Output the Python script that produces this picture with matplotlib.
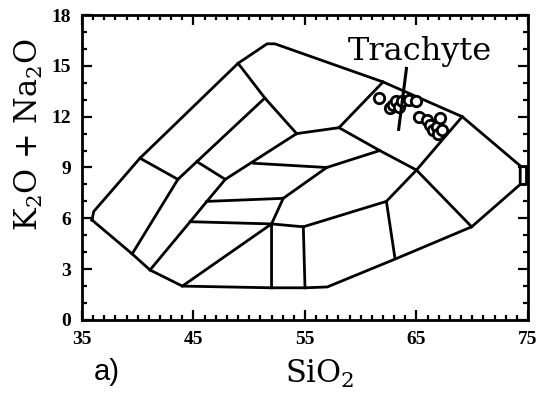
import matplotlib
matplotlib.use("Agg")
import matplotlib.pyplot as plt
from matplotlib.ticker import MultipleLocator

plt.rcParams["mathtext.fontset"] = "dejavuserif"

# TAS field boundaries (SiO2 wt%, Na2O+K2O wt%)
outer = [(35.9, 5.9), (39.5, 3.9), (41.1, 2.95), (44.0, 2.0), (52.0, 1.9),
         (55.0, 1.9), (57.0, 1.95), (63.1, 3.6), (69.95, 5.5), (74.3, 8.0),
         (74.3, 9.1), (69.1, 12.0), (62.0, 14.05), (52.3, 16.3), (51.6, 16.3),
         (49.0, 15.15), (40.2, 9.55), (36.05, 6.4), (35.9, 5.9)]
edge_box = [(74.3, 9.1), (74.8, 9.1), (74.8, 8.0), (74.3, 8.0)]
inner = [
    [(40.2, 9.55), (43.6, 8.3), (39.5, 3.9)],
    [(43.6, 8.3), (51.4, 13.1)],
    [(45.3, 9.35), (47.85, 8.3)],
    [(41.1, 2.95), (44.7, 5.8), (46.2, 7.0), (47.85, 8.3), (54.25, 11.0)],
    [(49.0, 15.15), (51.4, 13.1), (54.25, 11.0)],
    [(54.25, 11.0), (58.05, 11.35), (62.0, 14.05)],
    [(58.05, 11.35), (61.7, 10.0), (65.0, 8.85), (69.95, 5.5)],
    [(69.1, 12.0), (65.0, 8.85), (62.3, 7.0), (63.07, 3.64)],
    [(50.4, 9.25), (56.95, 9.0), (61.7, 10.0)],
    [(46.2, 7.0), (53.05, 7.18), (56.95, 9.0)],
    [(53.05, 7.18), (52.0, 5.67), (52.0, 1.9)],
    [(44.7, 5.8), (52.0, 5.67), (54.85, 5.5), (62.3, 7.0)],
    [(54.85, 5.5), (55.0, 1.9)],
    [(44.0, 2.0), (52.0, 5.67)],
]

# Trachyte samples
sio2 = [61.6, 62.6, 62.9, 63.2, 63.4, 63.7, 64.3, 65.0,
        65.2, 65.9, 66.2, 66.5, 66.8, 67.1, 66.95, 67.25]
alkali = [13.1, 12.5, 12.7, 12.9, 12.6, 12.9, 13.0, 12.9,
          12.0, 11.8, 11.5, 11.2, 11.4, 11.9, 11.0, 11.2]

leader = [(64.1, 14.85), (63.4, 11.25)]

x_ticks = [35, 45, 55, 65, 75]
y_ticks = [0, 3, 6, 9, 12, 15, 18]

fig = plt.figure(figsize=(5.38, 3.95), dpi=100)
ax = fig.add_axes([0.1524, 0.1899, 0.829, 0.7721])

lw = 2.0
for seg in [outer, edge_box] + inner:
    xs, ys = zip(*seg)
    ax.plot(xs, ys, color="black", lw=lw, solid_joinstyle="miter", zorder=2)

ax.plot(sio2, alkali, "o", ms=7.5, mfc="white", mec="black", mew=2.0, zorder=3)
lx, ly = zip(*leader)
ax.plot(lx, ly, color="black", lw=2.2, zorder=4)
ax.text(65.3, 15.85, "Trachyte", family="DejaVu Serif", fontsize=23,
        ha="center", va="center")

ax.set_xlim(35, 75)
ax.set_ylim(0, 18)
ax.set_xticks(x_ticks)
ax.set_yticks(y_ticks)
ax.xaxis.set_minor_locator(MultipleLocator(1))
ax.yaxis.set_minor_locator(MultipleLocator(1))
ax.tick_params(which="both", direction="in", top=True, right=True,
               width=1.6, labelsize=14, pad=8)
ax.tick_params(which="major", length=7)
ax.tick_params(which="minor", length=3.5)
for lab in ax.get_xticklabels() + ax.get_yticklabels():
    lab.set_family("Liberation Serif")
    lab.set_fontweight("bold")
for sp in ax.spines.values():
    sp.set_linewidth(2.0)

ax.set_xlabel(r"SiO$_2$", family="DejaVu Serif", fontsize=22)
ax.xaxis.set_label_coords(0.534, -0.125)
ax.set_ylabel(r"K$_2$O + Na$_2$O", family="DejaVu Serif", fontsize=22)
ax.yaxis.set_label_coords(-0.083, 0.607)
fig.text(0.175, 0.058, "a)", family="Liberation Sans", fontsize=21,
         ha="left", va="center")

fig.savefig("out.png", dpi=100)
